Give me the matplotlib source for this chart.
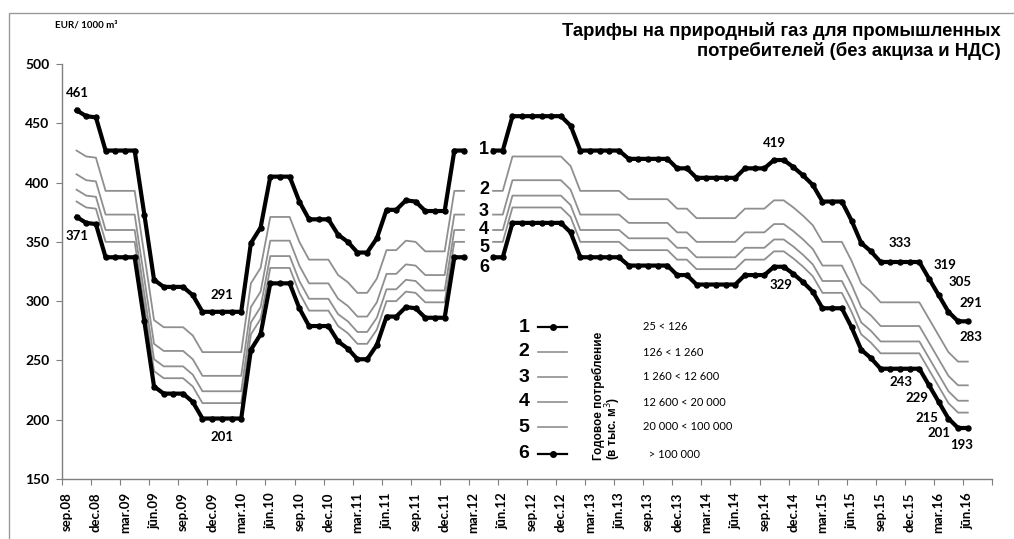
import numpy as np
import matplotlib
matplotlib.use("Agg")
import matplotlib.pyplot as plt
from matplotlib.lines import Line2D
from matplotlib.patches import Rectangle

W, H = 1014, 539

# ---------------- data (monthly, oct.08 .. jun.16) ----------------
first_month_index = 1          # sep.08 = 0
tick_labels = ["sep.08", "dec.08", "mar.09", "jūn.09", "sep.09", "dec.09", "mar.10", "jūn.10",
               "sep.10", "dec.10", "mar.11", "jūn.11", "sep.11", "dec.11", "mar.12", "jūn.12",
               "sep.12", "dec.12", "mar.13", "jūn.13", "sep.13", "dec.13", "mar.14", "jūn.14",
               "sep.14", "dec.14", "mar.15", "jūn.15", "sep.15", "dec.15", "mar.16", "jūn.16"]

N = None
s1 = [461, 456, 455,
      427, 427, 427, 427, 373, 318, 312, 312, 312, 305, 291, 291,
      291, 291, 291, 349, 362, 405, 405, 405, 384, 369, 369, 369,
      356, 350, 341, 341, 353, 377, 377, 385, 384, 376, 376, 376,
      427, 427, N, N, 427, 427, 456, 456, 456, 456, 456, 456,
      448, 427, 427, 427, 427, 427, 420, 420, 420, 420, 420, 412,
      412, 404, 404, 404, 404, 404, 412, 412, 412, 419, 419, 413,
      406, 398, 384, 384, 384, 368, 349, 342, 333, 333, 333, 333,
      333, 319, 305, 291, 283, 283]
s2 = [427, 422, 421,
      393, 393, 393, 393, 339, 284, 278, 278, 278, 271, 257, 257,
      257, 257, 257, 315, 328, 371, 371, 371, 350, 335, 335, 335,
      322, 316, 307, 307, 319, 343, 343, 351, 350, 342, 342, 342,
      393, 393, N, N, 393, 393, 422, 422, 422, 422, 422, 422,
      414, 393, 393, 393, 393, 393, 386, 386, 386, 386, 386, 378,
      378, 370, 370, 370, 370, 370, 378, 378, 378, 385, 385, 379,
      372, 364, 350, 350, 350, 334, 315, 308, 299, 299, 299, 299,
      299, 285, 271, 257, 249, 249]
s3 = [407, 402, 401,
      373, 373, 373, 373, 319, 264, 258, 258, 258, 251, 237, 237,
      237, 237, 237, 295, 308, 351, 351, 351, 330, 315, 315, 315,
      302, 296, 287, 287, 299, 323, 323, 331, 330, 322, 322, 322,
      373, 373, N, N, 373, 373, 402, 402, 402, 402, 402, 402,
      394, 373, 373, 373, 373, 373, 366, 366, 366, 366, 366, 358,
      358, 350, 350, 350, 350, 350, 358, 358, 358, 365, 365, 359,
      352, 344, 330, 330, 330, 314, 295, 288, 279, 279, 279, 279,
      279, 265, 251, 237, 229, 229]
s4 = [394, 389, 388,
      360, 360, 360, 360, 306, 251, 245, 245, 245, 238, 224, 224,
      224, 224, 224, 282, 295, 338, 338, 338, 317, 302, 302, 302,
      289, 283, 274, 274, 286, 310, 310, 318, 317, 309, 309, 309,
      360, 360, N, N, 360, 360, 389, 389, 389, 389, 389, 389,
      381, 360, 360, 360, 360, 360, 353, 353, 353, 353, 353, 345,
      345, 337, 337, 337, 337, 337, 345, 345, 345, 352, 352, 346,
      339, 331, 317, 317, 317, 301, 282, 275, 266, 266, 266, 266,
      266, 252, 238, 224, 216, 216]
s5 = [384, 379, 378,
      350, 350, 350, 350, 296, 241, 235, 235, 235, 228, 214, 214,
      214, 214, 214, 272, 285, 328, 328, 328, 307, 292, 292, 292,
      279, 273, 264, 264, 276, 300, 300, 308, 307, 299, 299, 299,
      350, 350, N, N, 350, 350, 379, 379, 379, 379, 379, 379,
      371, 350, 350, 350, 350, 350, 343, 343, 343, 343, 343, 335,
      335, 327, 327, 327, 327, 327, 335, 335, 335, 342, 342, 336,
      329, 321, 307, 307, 307, 291, 272, 265, 256, 256, 256, 256,
      256, 242, 228, 214, 206, 206]
s6 = [371, 366, 365,
      337, 337, 337, 337, 283, 228, 222, 222, 222, 215, 201, 201,
      201, 201, 201, 259, 272, 315, 315, 315, 294, 279, 279, 279,
      266, 260, 251, 251, 263, 287, 287, 295, 294, 286, 286, 286,
      337, 337, N, N, 337, 337, 366, 366, 366, 366, 366, 366,
      358, 337, 337, 337, 337, 337, 330, 330, 330, 330, 330, 322,
      322, 314, 314, 314, 314, 314, 322, 322, 322, 329, 329, 323,
      316, 308, 294, 294, 294, 278, 259, 252, 243, 243, 243, 243,
      243, 229, 215, 201, 193, 193]

series_names = ["1", "2", "3", "4", "5", "6"]
ranges = ["25 < 126", "126 < 1 260", "1 260 < 12 600", "12 600 < 20 000",
          "20 000 < 100 000", "  > 100 000"]
value_labels = ["461", "371", "291", "201", "419", "329", "333", "319", "305", "291",
                "283", "243", "229", "215", "201", "193"]

# ---------------- figure ----------------
fig = plt.figure(figsize=(W / 100, H / 100), dpi=100)
fig.patch.set_facecolor("white")


def fx(px):
    return px / W


def fy(py):
    return 1 - py / H


ax = fig.add_axes([fx(62), fy(479), fx(992) - fx(62), fy(64) - fy(479)])
ax.set_facecolor("white")

x = np.arange(first_month_index, first_month_index + len(s1))


def arr(s):
    return np.array([np.nan if v is None else v for v in s], dtype=float)


gray = "#8f8f8f"
for s in (s2, s3, s4, s5):
    ax.plot(x, arr(s), color=gray, lw=1.3, solid_joinstyle="round", zorder=2)
for s in (s1, s6):
    ax.plot(x, arr(s), color="black", lw=3.0, marker="o", ms=3.6,
            solid_joinstyle="round", zorder=3)

ax.set_xlim(-0.5, 95.5)
ax.set_ylim(150, 500)

for sp in ("top", "right"):
    ax.spines[sp].set_visible(False)
for sp in ("left", "bottom"):
    ax.spines[sp].set_color("#7f7f7f")
    ax.spines[sp].set_linewidth(1.0)

ax.set_xticks(np.arange(-0.5, 96, 3))
ax.set_xticklabels([])
ax.set_xticks(np.arange(0, 3 * len(tick_labels), 3), minor=True)
ax.set_xticklabels(tick_labels, minor=True, rotation=90, fontsize=9.5,
                   fontfamily="Lato", fontweight="bold", va="top", ha="center")
ax.tick_params(axis="x", which="major", length=4, color="#7f7f7f", direction="out")
ax.tick_params(axis="x", which="minor", length=0, pad=9.5)

ax.set_yticks(np.arange(150, 501, 50))
ax.set_yticklabels([str(v) for v in range(150, 501, 50)], fontsize=10,
                   fontfamily="Lato", fontweight="bold")
ax.tick_params(axis="y", length=4, color="#7f7f7f", direction="out", pad=5)

# ---------------- texts ----------------
fig.text(fx(1001), fy(31), "Тарифы на природный газ для промышленных",
         ha="right", va="center", fontsize=13.3, fontweight="bold",
         fontfamily="Liberation Sans")
fig.text(fx(1001), fy(51), "потребителей (без акциза и НДС)",
         ha="right", va="center", fontsize=13.3, fontweight="bold",
         fontfamily="Liberation Sans")
fig.text(fx(55), fy(25), "EUR/ 1000 m³", ha="left", va="center", fontsize=7,
         fontfamily="Lato", fontweight="bold")

label_pos = [(77, 93), (77, 236), (222, 295), (222, 437), (774, 143), (781, 285),
             (900, 243), (945, 265), (960, 282), (971, 303), (971, 337),
             (901, 382), (917, 398), (927, 418), (939, 433), (962, 445)]
for t, (px, py) in zip(value_labels, label_pos):
    fig.text(fx(px), fy(py), t, ha="center", va="center", fontsize=9.5,
             fontfamily="Lato", fontweight="bold")

# series numbers in the gap
gap_y = [149, 189, 212, 229, 247, 267]
for t, py in zip(series_names, gap_y):
    fig.text(fx(484), fy(py), t, ha="center", va="center", fontsize=13,
             fontweight="bold", fontfamily="Liberation Sans")

# legend block
leg_y = [327, 352, 377, 402, 427, 454]
for i, (t, r, py) in enumerate(zip(series_names, ranges, leg_y)):
    fig.text(fx(524), fy(py), t, ha="center", va="center", fontsize=14,
             fontweight="bold", fontfamily="Liberation Sans")
    if i in (0, 5):
        fig.add_artist(Line2D([fx(538), fx(567)], [fy(py), fy(py)], color="black",
                              lw=1.6, transform=fig.transFigure))
        fig.add_artist(Line2D([fx(553)], [fy(py)], color="black", marker="o", ms=4,
                              transform=fig.transFigure))
    else:
        fig.add_artist(Line2D([fx(538), fx(567)], [fy(py), fy(py)], color=gray,
                              lw=1.2, transform=fig.transFigure))
    fig.text(fx(643), fy(py), r, ha="left", va="center", fontsize=8,
             fontfamily="Lato")

fig.text(fx(598), fy(460), "Годовое потребление", rotation=90, ha="center",
         va="bottom", fontsize=8.5, fontweight="bold", fontfamily="Liberation Sans")
fig.text(fx(613), fy(460), "(в тыс. м$^3$)", rotation=90, ha="center",
         va="bottom", fontsize=8.5, fontweight="bold", fontfamily="Liberation Sans")

# outer frame
fig.add_artist(Rectangle((fx(9), -0.2), 1.2, fy(13) + 0.2, transform=fig.transFigure,
                         fill=False, ec="#9a9a9a", lw=1.0))

fig.savefig("out.png", dpi=100, facecolor="white")
